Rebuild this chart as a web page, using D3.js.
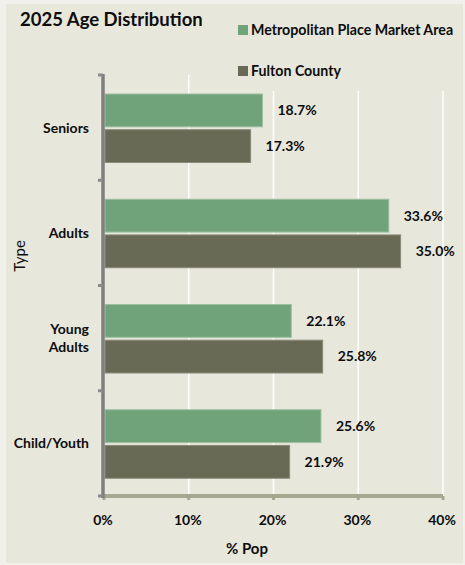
<!DOCTYPE html>
<html>
<head>
<meta charset="utf-8">
<script src="https://cdn.jsdelivr.net/npm/d3@7"></script>
<style>
  html, body { margin: 0; padding: 0; background: #f1f0ea; }
  svg { display: block; }
  text { font-family: Lato, "Liberation Sans", sans-serif; fill: #0d0d0d; }
  .b { font-weight: 700; }
</style>
</head>
<body>
<svg id="chart" width="465" height="565"></svg>
<script>
// Age groups, top to bottom
const categories = ["Seniors", "Adults", "Young Adults", "Child/Youth"];
const seriesNames = ["Metropolitan Place Market Area", "Fulton County"];
// Share of population (%) per age group
const metroValues = [18.7, 33.6, 22.1, 25.6];
const fultonValues = [17.3, 35.0, 25.8, 21.9];
const xTicks = [0, 10, 20, 30, 40];
const seriesColors = ["#70a37a", "#686a55"];
const seriesEdges = ["#9cc09f", "#8a8c78"];

const rows = categories.map((c, i) => ({
  category: c,
  values: [
    { series: seriesNames[0], value: metroValues[i] },
    { series: seriesNames[1], value: fultonValues[i] }
  ]
}));

const svg = d3.select("#chart");

// panel background
svg.append("rect").attr("x", 6).attr("y", 4).attr("width", 457).attr("height", 559)
  .attr("fill", "#e8e7dc");

const plot = { left: 104, right: 443, top: 75, bottom: 496 };

const x = d3.scaleLinear().domain([0, 40]).range([plot.left, plot.right]);
const y = d3.scaleBand().domain(categories).range([plot.top, plot.bottom]);
const ySeries = d3.scaleBand().domain(seriesNames).range([19, 87.5]).paddingInner(0.08);
const color = d3.scaleOrdinal().domain(seriesNames).range(seriesColors);
const edge = d3.scaleOrdinal().domain(seriesNames).range(seriesEdges);

// vertical gridlines
svg.append("g")
  .selectAll("line")
  .data(xTicks.filter(t => t > 0))
  .join("line")
  .attr("x1", d => x(d)).attr("x2", d => x(d))
  .attr("y1", plot.top).attr("y2", plot.bottom)
  .attr("stroke", "#ffffff").attr("stroke-width", 1.5);

// bars
const groups = svg.append("g")
  .selectAll("g")
  .data(rows)
  .join("g")
  .attr("transform", d => `translate(0,${y(d.category)})`);

groups.selectAll("rect")
  .data(d => d.values)
  .join("rect")
  .attr("x", x(0) + 1)
  .attr("y", d => ySeries(d.series))
  .attr("width", d => x(d.value) - x(0) - 1)
  .attr("height", ySeries.bandwidth())
  .attr("fill", d => color(d.series))
  .attr("stroke", d => edge(d.series))
  .attr("stroke-width", 1);

groups.selectAll("text.val")
  .data(d => d.values)
  .join("text")
  .attr("class", "val b")
  .attr("x", d => x(d.value) + 15)
  .attr("y", d => ySeries(d.series) + ySeries.bandwidth() / 2)
  .attr("dy", "0.35em")
  .attr("font-size", 14)
  .text(d => d.value.toFixed(1) + "%");

// x axis
const xAxis = svg.append("g");
xAxis.append("line")
  .attr("x1", plot.left - 1).attr("x2", plot.right)
  .attr("y1", plot.bottom).attr("y2", plot.bottom)
  .attr("stroke", "#a6a890").attr("stroke-width", 4);
xAxis.selectAll("line.tick")
  .data(xTicks)
  .join("line")
  .attr("class", "tick")
  .attr("x1", d => x(d)).attr("x2", d => x(d))
  .attr("y1", plot.bottom).attr("y2", plot.bottom + 4)
  .attr("stroke", "#a6a890").attr("stroke-width", 3);
xAxis.selectAll("text")
  .data(xTicks)
  .join("text")
  .attr("class", "b")
  .attr("x", d => x(d) - 1)
  .attr("y", 520)
  .attr("dy", "0.35em")
  .attr("text-anchor", "middle")
  .attr("font-size", 14)
  .text(d => d + "%");

// y axis
const yAxis = svg.append("g");
yAxis.append("line")
  .attr("x1", plot.left - 1).attr("x2", plot.left - 1)
  .attr("y1", plot.top - 1).attr("y2", plot.bottom + 2)
  .attr("stroke", "#7f7f7f").attr("stroke-width", 3.5);
const boundaries = categories.map(c => y(c)).concat([plot.bottom]);
yAxis.selectAll("line.tick")
  .data(boundaries)
  .join("line")
  .attr("class", "tick")
  .attr("x1", plot.left - 6).attr("x2", plot.left - 1)
  .attr("y1", d => d).attr("y2", d => d)
  .attr("stroke", "#8a8a8a").attr("stroke-width", 3);

const catLabels = yAxis.selectAll("text")
  .data(categories)
  .join("text")
  .attr("class", "b")
  .attr("text-anchor", "end")
  .attr("font-size", 14)
  .attr("y", d => y(d) + y.bandwidth() / 2);
catLabels.each(function (d) {
  const words = d === "Young Adults" ? ["Young", "Adults"] : [d];
  const t = d3.select(this);
  words.forEach((w, i) => {
    t.append("tspan")
      .attr("x", 89)
      .attr("dy", i === 0 ? `${0.35 - (words.length - 1) * 0.65}em` : "1.3em")
      .text(w);
  });
});

// axis titles
svg.append("text")
  .attr("transform", "translate(20,256) rotate(-90)")
  .attr("text-anchor", "middle")
  .attr("dy", "0.35em")
  .attr("font-size", 15)
  .text("Type");

svg.append("text")
  .attr("class", "b")
  .attr("x", 247).attr("y", 549)
  .attr("dy", "0.35em")
  .attr("text-anchor", "middle")
  .attr("font-size", 15)
  .text("% Pop");

// title
svg.append("text")
  .attr("class", "b")
  .attr("x", 20).attr("y", 26)
  .attr("font-size", 18.5)
  .text("2025 Age Distribution");

// legend
const legend = svg.append("g");
legend.append("rect")
  .attr("x", 232).attr("y", 14).attr("width", 231).attr("height", 77)
  .attr("fill", "#e8e7dc");
const legendRows = [30, 71];
seriesNames.forEach((s, i) => {
  legend.append("rect")
    .attr("x", 238).attr("y", legendRows[i] - 5)
    .attr("width", 10).attr("height", 10)
    .attr("fill", color(s));
  legend.append("text")
    .attr("class", "b")
    .attr("x", 251).attr("y", legendRows[i])
    .attr("dy", "0.35em")
    .attr("font-size", 14.2)
    .text(s);
});
</script>
</body>
</html>
